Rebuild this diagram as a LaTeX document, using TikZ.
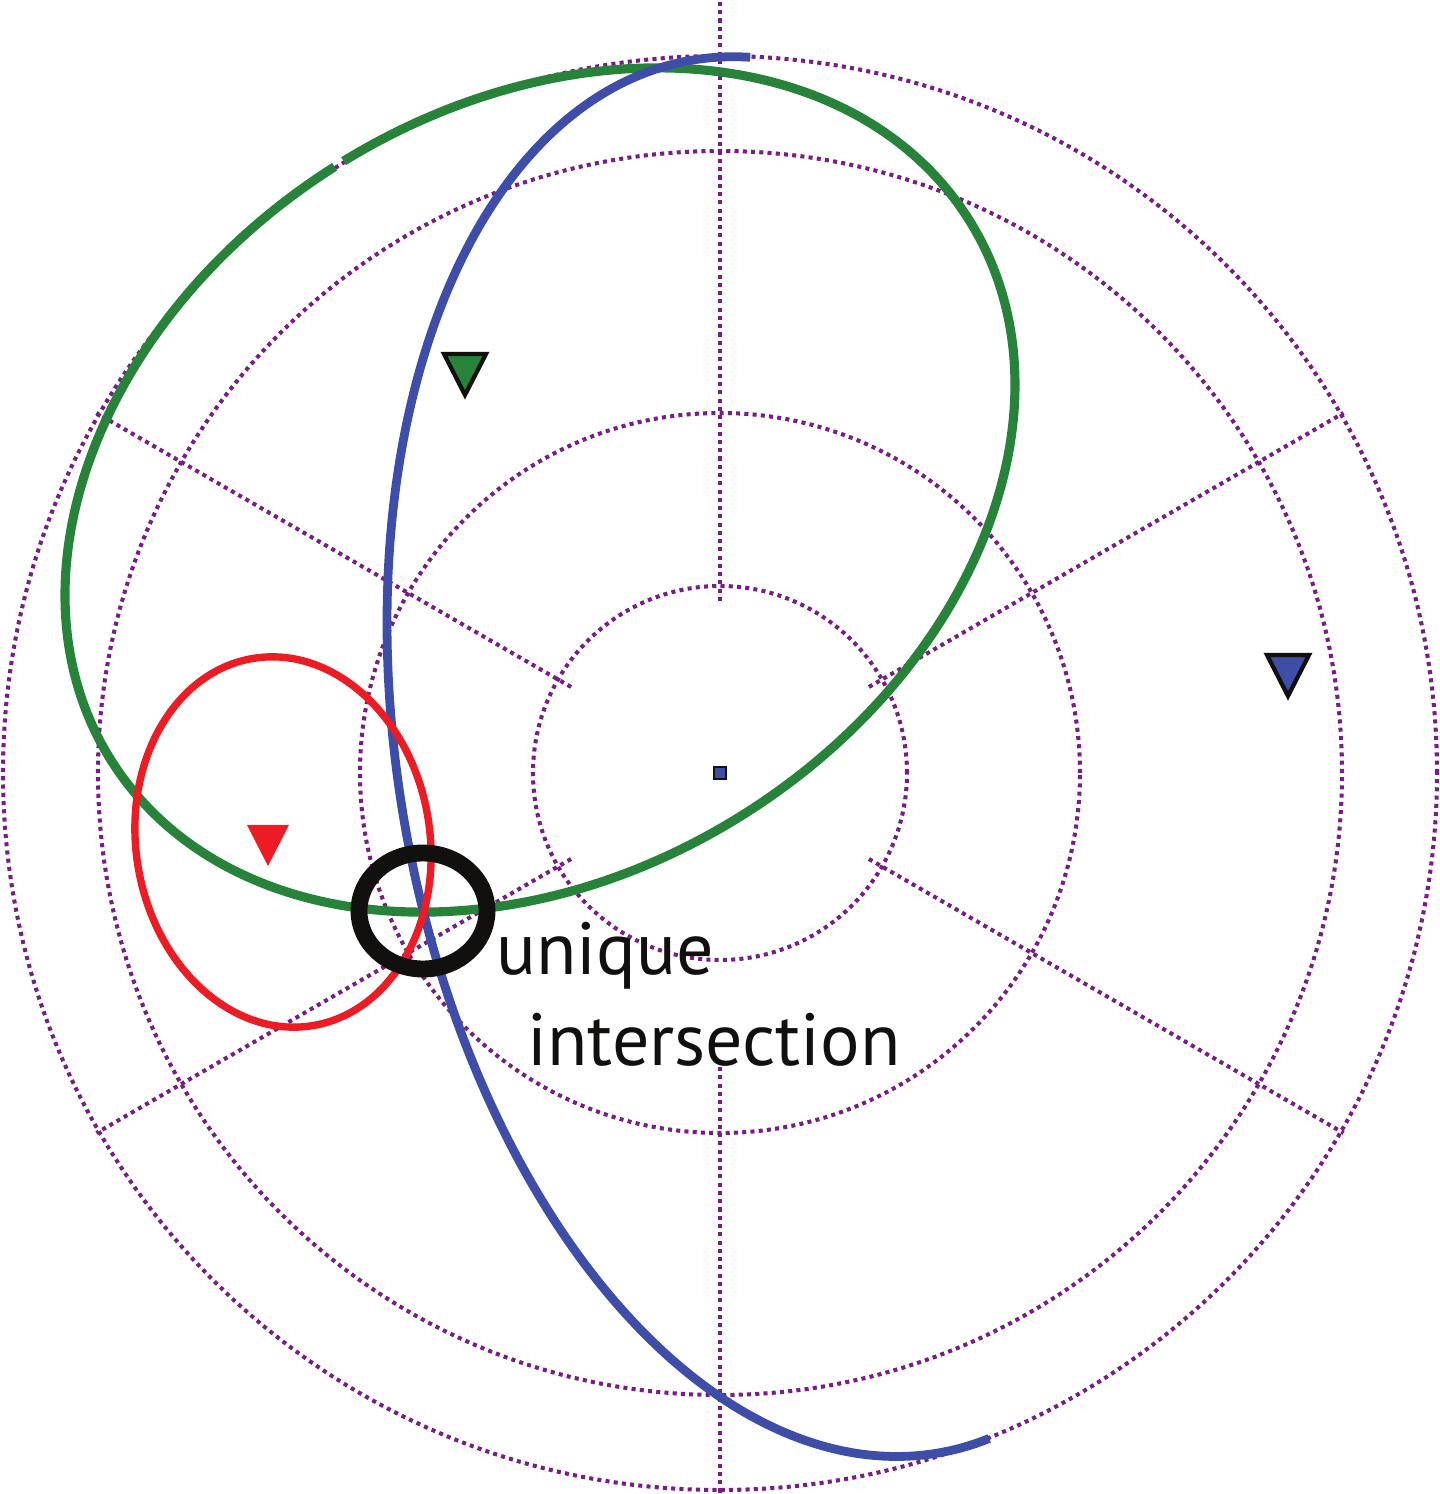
\documentclass[tikz,border=0pt]{standalone}
\usepackage{fontspec}
\setmainfont{PT Sans}

\definecolor{gridpurple}{RGB}{119,30,132}
\definecolor{ellgreen}{RGB}{39,130,58}
\definecolor{ellblue}{RGB}{61,77,168}
\definecolor{ellred}{RGB}{236,28,36}
\definecolor{ink}{RGB}{18,16,14}

\tikzset{
  dotgrid/.style={gridpurple, line width=1.15pt, dash pattern=on 1.15pt off 1.2pt},
  greencurve/.style={ellgreen, line width=2.6pt},
  bluecurve/.style={ellblue, line width=2.5pt},
  redcurve/.style={ellred, line width=2.1pt},
  ring/.style={ink, line width=4.8pt},
  marker/.pic={\path[pic actions, line width=1.2pt, line join=miter]
    (-21,20) -- (21,20) -- (0,-21) -- cycle;},
  origin/.style={rectangle, draw=ink, fill=ellblue, line width=0.6pt,
    inner sep=0pt, minimum size=0.12cm},
  tag/.style={text=ink, inner sep=0pt, font=\fontsize{21}{26}\selectfont}
}

\begin{document}
\begin{tikzpicture}[x=0.01cm, y=0.01cm]
\useasboundingbox (-720,-721) rectangle (720,773);

% polar grid
\foreach \r in {187,360,622,717}
  \draw[dotgrid] (0,0) circle [radius=\r];
\foreach \a in {30,150,210,330}
  \draw[dotgrid] (\a:172) -- (\a:720);
\draw[dotgrid] (90:172) -- (90:773);
\draw[dotgrid] (270:294) -- (270:721);

% green ellipse, broken where it meets the outer ring
\draw[greencurve, shift={(-180,283)}, rotate=32.3]
  (90.1:507 and 383) arc [start angle=90.1, end angle=448.9,
    x radius=507, y radius=383];

% blue curve, part of a long ellipse
\draw[bluecurve, shift={(95.1,16.4)}, rotate=100.2]
  (-8.3:707.2 and 415.9) arc [start angle=-8.3, end angle=187,
    x radius=707.2, y radius=415.9];

% red ellipse
\draw[redcurve, shift={(-437,-69)}, rotate=9]
  (0,0) ellipse [x radius=147, y radius=186];

% the unique intersection
\draw[ring] (-297,-138) ellipse [x radius=64, y radius=58];

% markers
\pic[fill=ellgreen, draw=ink] at (-255,399) {marker};
\pic[fill=ellblue, draw=ink] at (568,98) {marker};
\pic[fill=ellred] at (-452,-72) {marker};
\node[origin] (o) at (0,0) {};

\node[tag, anchor=base west] (uniq) at (-224,-202) {unique};
\node[tag, anchor=base west] (isect) at (-193,-292) {intersection};
\end{tikzpicture}
\end{document}
